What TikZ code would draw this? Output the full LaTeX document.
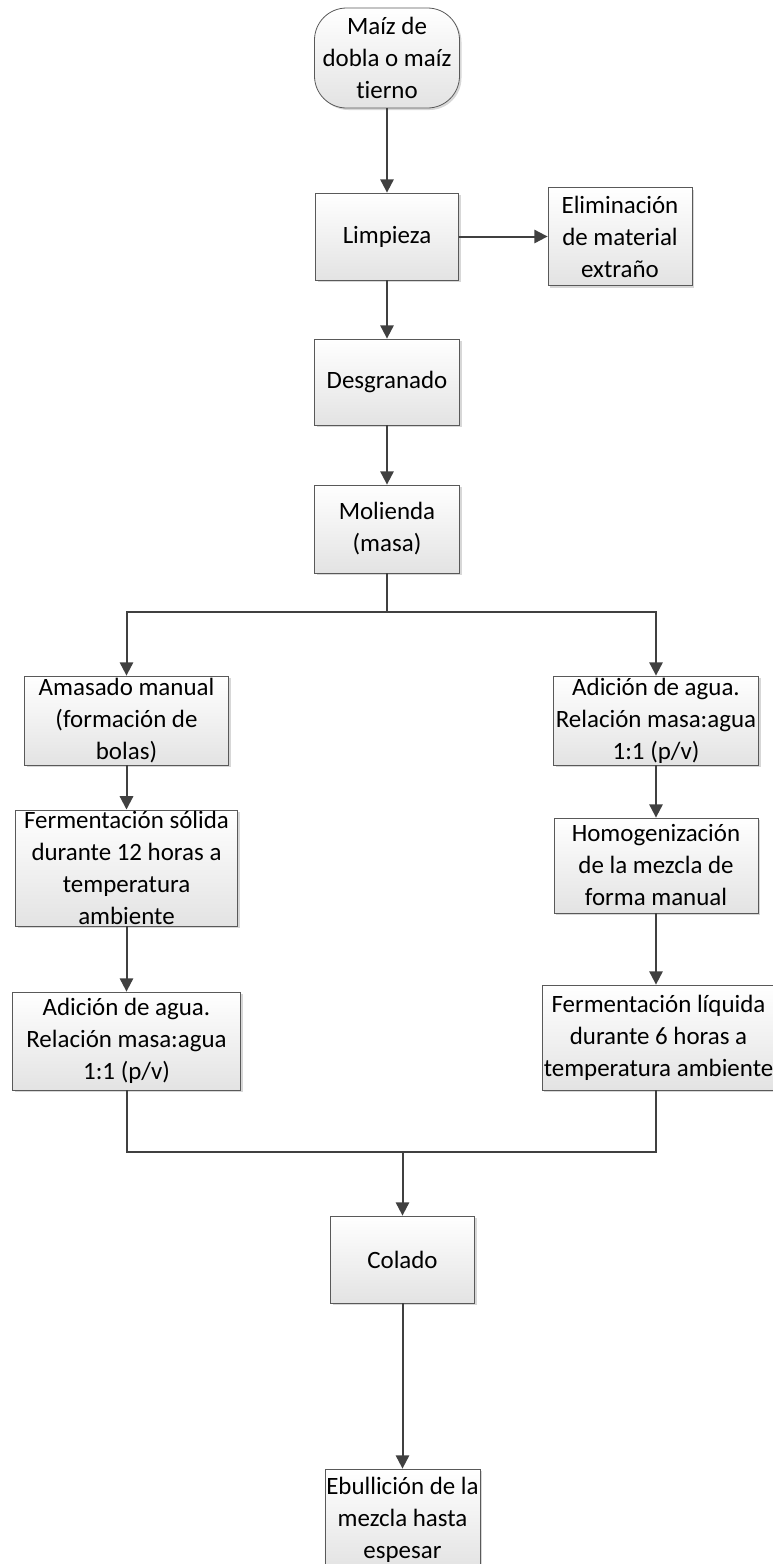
\documentclass[tikz,border=0pt]{standalone}
\usepackage{fontspec}
\setmainfont{Carlito}[Ligatures=NoCommon]
\usetikzlibrary{arrows.meta,shadows}
\begin{document}
\begin{tikzpicture}[x=0.75pt,y=-0.75pt,
  wh/.style 2 args={minimum width=#1*0.75pt, minimum height=#2*0.75pt},
  box/.style={draw=black!65, line width=0.6pt, top color=white, bottom color=black!11,
    drop shadow={shadow xshift=1.5pt,shadow yshift=-1.5pt,fill=black!35,opacity=0.45},
    align=center, font=\fontsize{18.7}{24}\selectfont, inner sep=1pt},
  conn/.style={draw=black!75, line width=1.5pt, -{Triangle[length=10pt,width=10pt]}},
  plain/.style={draw=black!75, line width=1.5pt}]
\useasboundingbox (0,0) rectangle (772,1564);

\node[box, wh={145}{100}, rounded corners=24pt] (start) at (387,58) {Maíz de\\dobla o maíz\\tierno};
\node[box, wh={143}{87}] (limp) at (387,236.5) {Limpieza};
\node[box, wh={144}{98}] (elim) at (620,236.5) {Eliminación\\de material\\extraño};
\node[box, wh={145}{86}] (desg) at (387,382) {Desgranado};
\node[box, wh={145}{88}] (mol) at (387,529) {Molienda\\(masa)};
\node[box, wh={204}{89}] (amas) at (126.5,720.5) {Amasado manual\\(formación de\\bolas)};
\node[box, wh={205}{89}] (adr) at (656,720.5) {Adición de agua.\\Relación masa:agua\\1:1 (p/v)};
\node[box, wh={222}{100}] (fsol) at (126.5,868) {Fermentación sólida\\durante 12 horas a\\temperatura\\ambiente};
\node[box, wh={204}{95}] (homo) at (656,865.5) {Homogenización\\de la mezcla de\\forma manual};
\node[box, wh={228}{98}] (adl) at (126.5,1041) {Adición de agua.\\Relación masa:agua\\1:1 (p/v)};
\node[box, wh={223}{105}] (fliq) at (658.5,1037.5) {Fermentación líquida\\durante 6 horas a\\temperatura ambiente};
\node[box, wh={144}{87}] (colado) at (402.5,1259.5) {Colado};
\node[box, wh={144}{101}] (ebu) at (402.5,1519.5) {Ebullición de la\\mezcla hasta\\espesar};

\coordinate (split) at (387,612);
\coordinate (merge) at (402.5,1152);

\draw[conn] (start) -- (limp);
\draw[conn] (limp) -- (elim);
\draw[conn] (limp) -- (desg);
\draw[conn] (desg) -- (mol);
\draw[plain] (mol) -- (split);
\draw[conn] (split) -| (amas);
\draw[conn] (split) -| (adr);
\draw[conn] (amas) -- (fsol);
\draw[conn] (fsol) -- (adl);
\draw[conn] (adr) -- (homo);
\draw[conn] (homo.south) -- (homo.south |- fliq.north);
\draw[plain] (adl.south) |- (merge);
\draw[plain] (fliq.south -| homo.south) |- (merge);
\draw[conn] (merge) -- (colado);
\draw[conn] (colado) -- (ebu);
\end{tikzpicture}
\end{document}
